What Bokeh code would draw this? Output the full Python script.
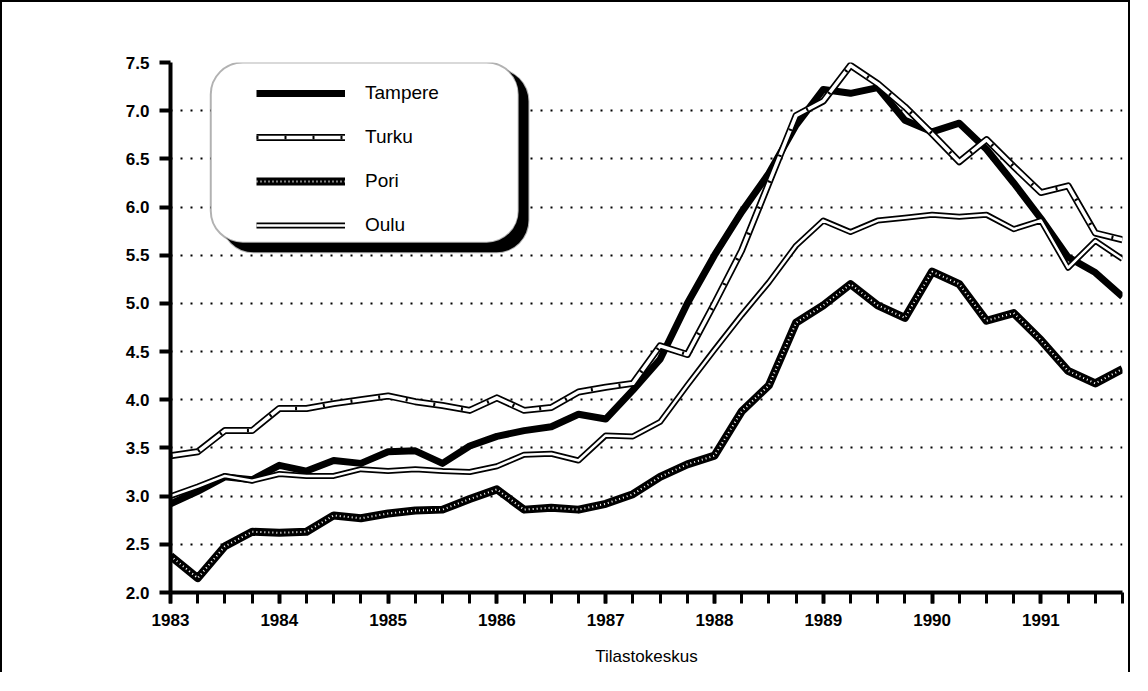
from bokeh.plotting import figure
from bokeh.models import (FixedTicker, NumeralTickFormatter, Legend, LegendItem,
                          BoxAnnotation, Range1d)
from bokeh.embed import file_html
from bokeh.resources import INLINE

# ---- data (quarterly, 1983 Q1 .. 1991 Q4) ----
years = list(range(1983, 1992))
time = [y + q / 4 for y in years for q in range(4)]

tampere = [2.92, 3.05, 3.20, 3.17, 3.32, 3.26, 3.37, 3.34, 3.46, 3.47, 3.34, 3.52,
           3.62, 3.68, 3.72, 3.85, 3.80, 4.10, 4.42, 5.00, 5.50, 5.95, 6.35, 6.85,
           7.22, 7.18, 7.24, 6.90, 6.78, 6.87, 6.60, 6.25, 5.88, 5.48, 5.32, 5.07]
turku = [3.42, 3.46, 3.68, 3.68, 3.91, 3.91, 3.96, 4.00, 4.04, 3.98, 3.94, 3.89,
         4.02, 3.89, 3.92, 4.08, 4.13, 4.17, 4.56, 4.47, 5.00, 5.55, 6.25, 6.95,
         7.10, 7.47, 7.28, 7.04, 6.76, 6.47, 6.70, 6.42, 6.15, 6.22, 5.73, 5.66]
pori = [2.38, 2.15, 2.48, 2.63, 2.62, 2.63, 2.80, 2.77, 2.82, 2.85, 2.86, 2.97,
        3.07, 2.86, 2.88, 2.86, 2.92, 3.02, 3.20, 3.33, 3.42, 3.88, 4.15, 4.80,
        4.98, 5.20, 4.98, 4.85, 5.33, 5.20, 4.82, 4.90, 4.62, 4.30, 4.17, 4.32]
oulu = [3.00, 3.10, 3.21, 3.16, 3.23, 3.21, 3.21, 3.28, 3.26, 3.28, 3.26, 3.25,
        3.31, 3.43, 3.44, 3.37, 3.63, 3.62, 3.77, 4.15, 4.52, 4.88, 5.22, 5.60,
        5.86, 5.74, 5.86, 5.89, 5.92, 5.90, 5.92, 5.77, 5.86, 5.37, 5.65, 5.46]

y_ticks = [2.0, 2.5, 3.0, 3.5, 4.0, 4.5, 5.0, 5.5, 6.0, 6.5, 7.0, 7.5]
names = ["Tampere", "Turku", "Pori", "Oulu"]
source_label = "Tilastokeskus"

FONT = "Liberation Sans"

p = figure(width=1130, height=672, output_backend="svg", toolbar_location=None,
           x_range=Range1d(time[0], time[-1]), y_range=Range1d(y_ticks[0], y_ticks[-1]),
           min_border_left=168, min_border_right=10, min_border_top=60,
           min_border_bottom=82, outline_line_color=None,
           background_fill_color="white", border_fill_color="white")
p.styles = {"border-top": "2px solid black", "border-left": "2px solid black",
            "border-right": "2px solid black"}

# axes
p.xaxis.ticker = FixedTicker(ticks=years, minor_ticks=time)
p.yaxis.ticker = FixedTicker(ticks=y_ticks)
p.yaxis.formatter = NumeralTickFormatter(format="0.0")
for ax in (p.xaxis[0], p.yaxis[0]):
    ax.axis_line_width = 4
    ax.axis_line_color = "black"
    ax.major_tick_line_width = 4
    ax.major_tick_line_color = "black"
    ax.major_tick_in = 0
    ax.major_tick_out = 11
    ax.major_label_text_font = FONT
    ax.major_label_text_font_size = "17px"
    ax.major_label_text_font_style = "bold"
    ax.major_label_text_color = "black"
p.xaxis.minor_tick_line_width = 3
p.xaxis.minor_tick_line_color = "black"
p.xaxis.minor_tick_in = 0
p.xaxis.minor_tick_out = 11
p.yaxis.minor_tick_line_color = None
p.xaxis.major_label_standoff = 10
p.yaxis.major_label_standoff = 10
p.xaxis.axis_label = source_label
p.xaxis.axis_label_text_font = FONT
p.xaxis.axis_label_text_font_size = "17px"
p.xaxis.axis_label_text_font_style = "normal"
p.xaxis.axis_label_text_color = "black"
p.xaxis.axis_label_standoff = 18

# grid
p.xgrid.grid_line_color = None
p.ygrid.grid_line_color = "black"
p.ygrid.grid_line_width = 2
p.ygrid.grid_line_dash = "2 8"

# ---- series ----
r_pori_a = p.line(time, pori, line_color="black", line_width=8, line_join="round")
r_pori_b = p.line(time, pori, line_color="white", line_width=2, line_dash="1 3")

r_tam = p.line(time, tampere, line_color="black", line_width=7, line_join="round")

r_oulu_a = p.line(time, oulu, line_color="black", line_width=6, line_join="round")
r_oulu_b = p.line(time, oulu, line_color="white", line_width=2.5, line_join="round")

r_tur_a = p.line(time, turku, line_color="black", line_width=7, line_join="round")
r_tur_b = p.line(time, turku, line_color="white", line_width=3.5, line_join="round")
r_tur_c = p.line(time, turku, line_color="black", line_width=3.5, line_dash="2 26")

# ---- legend box with shadow ----
shadow = BoxAnnotation(left=1983.47, right=1986.29, top=7.43, bottom=5.53,
                       fill_color="black", fill_alpha=1, line_color="black",
                       line_width=2, border_radius=32, level="overlay")
box = BoxAnnotation(left=1983.37, right=1986.20, top=7.50, bottom=5.63,
                    fill_color="white", fill_alpha=1, line_color="black",
                    line_width=2, border_radius=32, level="overlay")
p.add_layout(shadow)
p.add_layout(box)

legend = Legend(items=[
    LegendItem(label=names[0], renderers=[r_tam]),
    LegendItem(label=names[1], renderers=[r_tur_a, r_tur_b, r_tur_c]),
    LegendItem(label=names[2], renderers=[r_pori_a, r_pori_b]),
    LegendItem(label=names[3], renderers=[r_oulu_a, r_oulu_b]),
], location=(86, 355), glyph_width=89, glyph_height=24, label_height=24,
    spacing=20, label_standoff=20, padding=0, margin=0,
    background_fill_alpha=0, border_line_color=None,
    label_text_font=FONT, label_text_font_size="19px", label_text_color="black",
    level="overlay")
p.add_layout(legend)

open("out.html", "w").write(file_html(p, INLINE))
